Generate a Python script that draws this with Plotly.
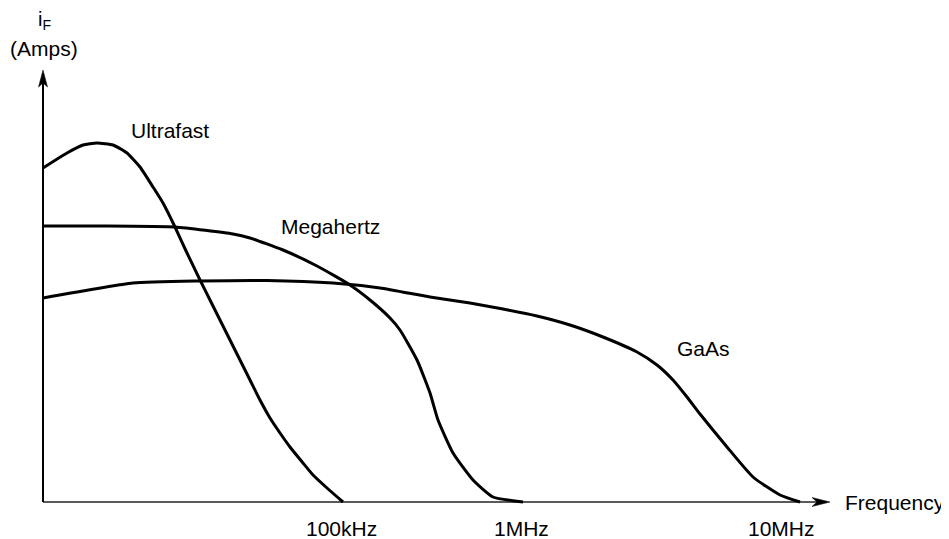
import plotly.graph_objects as go

# Schematic units: x = relative frequency position, y = relative forward current
ultrafast_x = [0, 24, 40, 54, 70, 84, 97, 110, 120, 132, 144, 157, 167, 177, 187, 197, 207, 217, 227, 237, 247, 260, 270, 284, 300]
ultrafast_y = [334, 349, 357, 359, 357, 349, 335, 315, 299, 275, 249, 222, 202, 182, 162, 142, 122, 102, 84, 69, 55, 39, 27, 14, 0]

megahertz_x = [0, 57, 132, 190, 207, 240, 274, 307, 327, 347, 357, 374, 387, 395, 410, 430, 450, 480]
megahertz_y = [276, 276, 275, 268, 264, 252, 236, 217, 202, 184, 172, 142, 109, 82, 49, 22, 5, 0]

gaas_x = [0, 90, 157, 224, 290, 337, 387, 427, 460, 494, 527, 560, 594, 614, 630, 644, 657, 684, 710, 737, 757]
gaas_y = [204, 219, 221, 221.5, 219, 214, 205, 199, 193, 186, 177, 165, 150, 137, 122, 105, 88, 55, 25, 7, 0]

tick_labels = ["100kHz", "1MHz", "10MHz"]
tick_pos = [298.5, 478, 738]

series_labels = ["Ultrafast", "Megahertz", "GaAs"]
label_x = [126.5, 287, 660]
label_y = [372, 276, 153.5]

FONT = "Liberation Sans, Arial, sans-serif"
FS = 21

fig = go.Figure()
for xs, ys, name in [(ultrafast_x, ultrafast_y, "Ultrafast"),
                     (megahertz_x, megahertz_y, "Megahertz"),
                     (gaas_x, gaas_y, "GaAs")]:
    fig.add_trace(go.Scatter(x=xs, y=ys, mode="lines", name=name,
                             line=dict(color="black", width=3, shape="spline", smoothing=0.5),
                             showlegend=False, hoverinfo="skip"))

shapes = [
    # x axis line (gray)
    dict(type="line", xref="x", yref="y", x0=0, y0=0, x1=775, y1=0,
         line=dict(color="#5a5a5a", width=2), layer="below"),
    # y axis line
    dict(type="line", xref="x", yref="y", x0=0, y0=0, x1=0, y1=420,
         line=dict(color="black", width=2), layer="below"),
    # x arrowhead
    dict(type="path", xref="x", yref="y", xsizemode="pixel", ysizemode="pixel",
         xanchor=787, yanchor=0, path="M0,0 L-18,4.5 L-13,0 L-18,-4.5 Z",
         fillcolor="black", line=dict(color="black", width=0.5)),
    # y arrowhead
    dict(type="path", xref="x", yref="y", xsizemode="pixel", ysizemode="pixel",
         xanchor=0, yanchor=432, path="M0,0 L-4.5,-17 L0,-13 L4.5,-17 Z",
         fillcolor="black", line=dict(color="black", width=0.5)),
]

annotations = []
def txt(t, xv, yv, size=FS):
    return dict(x=xv, y=yv, xref="x", yref="y", text=t, showarrow=False,
                font=dict(size=size, color="black", family=FONT),
                xanchor="center", yanchor="middle")

for t, xv, yv in zip(series_labels, label_x, label_y):
    annotations.append(txt(t, xv, yv))
for t, xv in zip(tick_labels, tick_pos):
    annotations.append(txt(t, xv, -26))
annotations.append(txt("Frequency", 852, 0))
annotations.append(txt("i<sub>F</sub>", 1, 482, 20))
annotations.append(txt("(Amps)", 0.5, 454))

fig.update_layout(
    width=949, height=539,
    margin=dict(l=0, r=0, t=0, b=0),
    paper_bgcolor="white", plot_bgcolor="white",
    xaxis=dict(range=[-35, 914], visible=False, fixedrange=True),
    yaxis=dict(range=[-45, 494], visible=False, fixedrange=True),
    shapes=shapes, annotations=annotations,
    font=dict(family=FONT),
)

fig.write_html("out.html")
